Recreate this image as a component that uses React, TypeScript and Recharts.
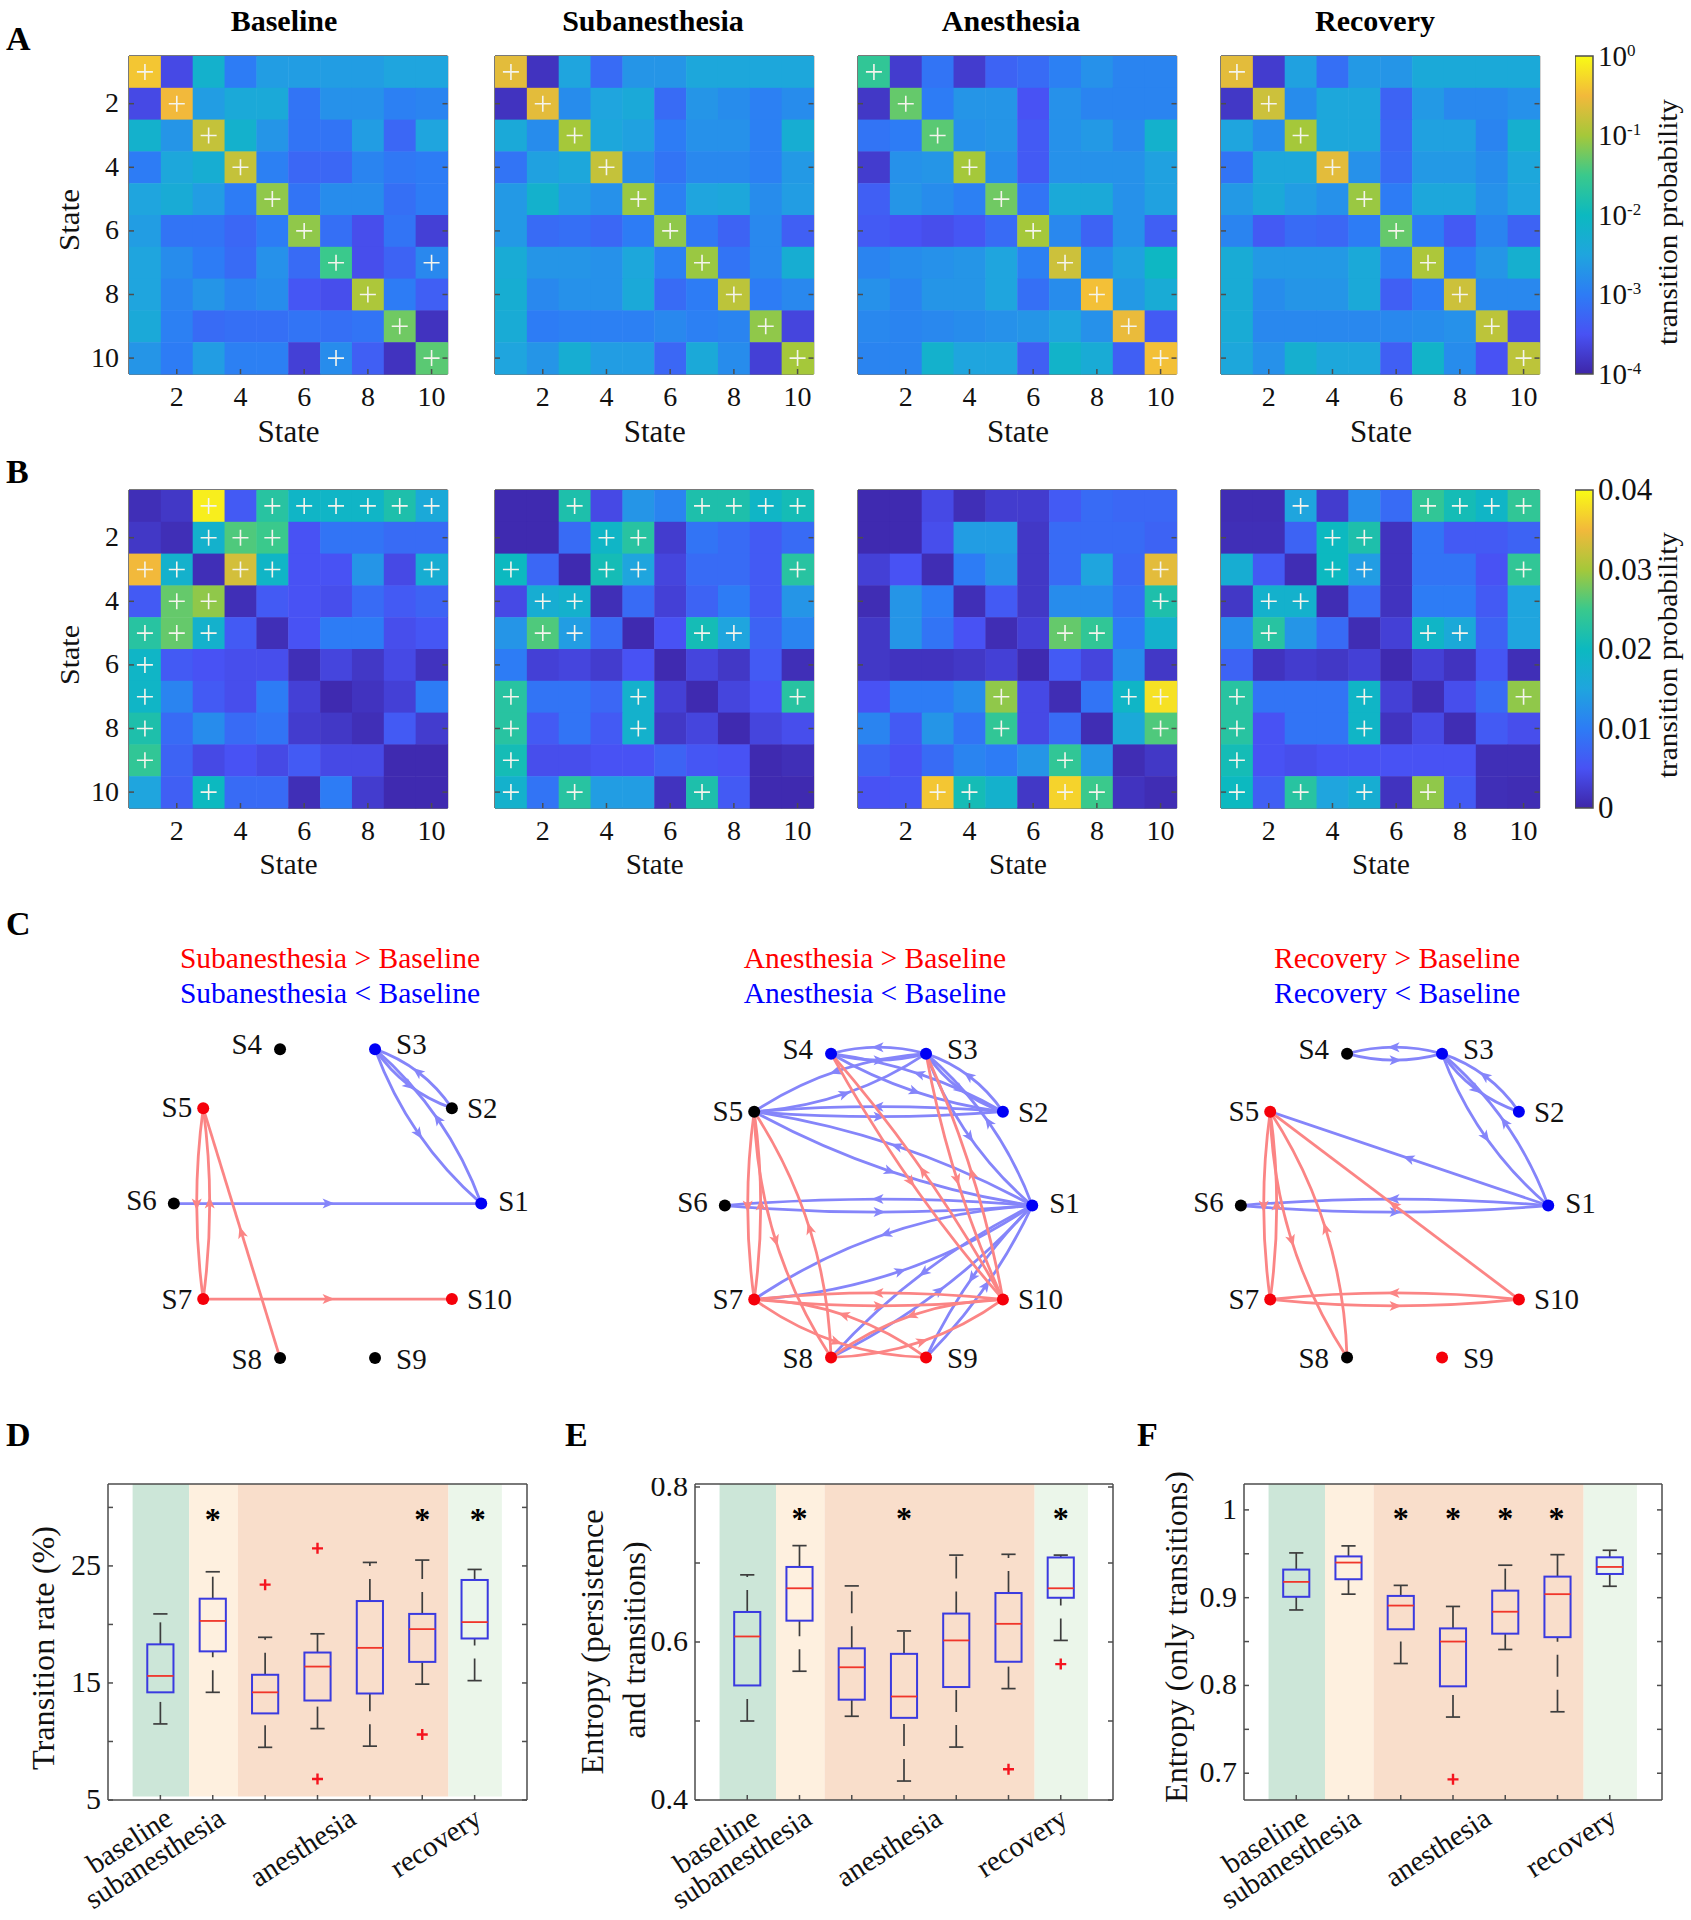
import React from 'react';
import {
  ScatterChart,
  Scatter,
  XAxis,
  YAxis,
  ReferenceArea,
  BarChart,
  Bar,
} from 'recharts';

// ---- panel A: log10 transition probability, rows then columns ----
const A_BASELINE = [
  [-0.4, -3.6, -2.2, -3.0, -2.6, -2.6, -2.6, -2.6, -2.5, -2.5],
  [-3.6, -0.5, -2.6, -2.4, -2.4, -3.1, -2.75, -2.75, -2.95, -2.9],
  [-2.2, -2.7, -0.8, -2.2, -2.7, -3.1, -3.1, -2.6, -3.25, -2.5],
  [-3.0, -2.45, -2.3, -0.8, -2.95, -3.25, -3.25, -2.9, -3.05, -3.0],
  [-2.5, -2.35, -2.6, -3.0, -1.1, -3.1, -2.8, -2.8, -3.15, -3.0],
  [-2.6, -3.1, -3.1, -3.25, -3.0, -1.1, -3.15, -3.55, -3.1, -3.7],
  [-2.5, -2.8, -3.0, -3.2, -2.75, -3.2, -1.5, -3.55, -3.3, -2.85],
  [-2.5, -2.9, -2.7, -2.9, -2.8, -3.45, -3.55, -0.95, -3.0, -3.35],
  [-2.4, -2.95, -3.2, -3.15, -3.15, -3.1, -3.15, -3.1, -1.25, -3.85],
  [-2.7, -3.0, -2.6, -2.95, -2.95, -3.7, -2.8, -3.35, -3.85, -1.35],
];
const A_SUB = [
  [-0.6, -3.85, -2.5, -3.2, -2.7, -2.7, -2.45, -2.45, -2.45, -2.45],
  [-3.85, -0.6, -2.8, -2.5, -2.4, -3.2, -2.7, -2.8, -2.95, -2.8],
  [-2.4, -2.8, -1.0, -2.45, -2.55, -3.0, -2.75, -2.75, -2.95, -2.3],
  [-3.1, -2.55, -2.45, -0.8, -2.8, -3.1, -2.85, -2.85, -2.95, -2.65],
  [-2.65, -2.2, -2.6, -2.75, -1.05, -2.95, -2.5, -2.45, -2.8, -2.6],
  [-2.65, -3.2, -3.15, -3.25, -3.0, -1.1, -3.05, -3.3, -2.85, -3.35],
  [-2.35, -2.7, -2.7, -2.75, -2.45, -2.95, -1.05, -3.1, -2.85, -2.3],
  [-2.3, -2.85, -2.75, -2.75, -2.4, -3.2, -3.0, -0.85, -3.0, -2.85],
  [-2.35, -3.0, -2.95, -2.95, -2.95, -2.85, -2.95, -2.9, -1.1, -3.65],
  [-2.5, -2.7, -2.3, -2.6, -2.6, -3.25, -2.4, -2.8, -3.7, -1.0],
];
const A_ANES = [
  [-1.6, -3.75, -3.1, -3.75, -3.3, -3.2, -2.95, -2.75, -2.9, -2.9],
  [-3.8, -1.3, -3.0, -2.7, -2.7, -3.5, -2.75, -2.9, -2.9, -2.9],
  [-3.1, -3.0, -1.35, -2.75, -2.7, -3.4, -2.75, -2.65, -2.85, -2.2],
  [-3.75, -2.75, -2.7, -1.0, -2.8, -3.4, -2.75, -2.75, -2.75, -2.55],
  [-3.35, -2.7, -2.8, -2.95, -1.25, -3.1, -2.4, -2.4, -2.75, -2.55],
  [-3.4, -3.5, -3.55, -3.45, -3.2, -1.0, -2.85, -3.3, -2.75, -3.35],
  [-2.9, -2.8, -2.75, -2.7, -2.5, -2.95, -0.75, -2.8, -2.55, -2.05],
  [-2.75, -2.9, -2.7, -2.7, -2.5, -3.15, -2.8, -0.45, -2.65, -2.35],
  [-2.85, -2.9, -2.85, -2.8, -2.75, -2.7, -2.5, -2.75, -0.55, -3.4],
  [-2.9, -2.9, -2.2, -2.5, -2.5, -3.35, -2.15, -2.35, -3.35, -0.45],
];
const A_REC = [
  [-0.6, -3.75, -2.55, -3.15, -2.65, -2.7, -2.4, -2.4, -2.4, -2.4],
  [-3.8, -0.75, -2.8, -2.45, -2.45, -3.3, -2.65, -2.85, -2.85, -2.75],
  [-2.5, -2.8, -1.0, -2.45, -2.45, -3.25, -2.55, -2.55, -2.9, -2.25],
  [-3.1, -2.45, -2.45, -0.6, -2.75, -3.2, -2.65, -2.65, -2.8, -2.45],
  [-2.65, -2.4, -2.6, -2.75, -1.05, -3.0, -2.45, -2.45, -2.75, -2.5],
  [-2.9, -3.4, -3.2, -3.25, -3.0, -1.3, -3.0, -3.4, -2.9, -3.3],
  [-2.35, -2.65, -2.65, -2.65, -2.4, -2.95, -0.95, -3.0, -2.7, -2.25],
  [-2.35, -2.8, -2.7, -2.7, -2.4, -3.35, -3.0, -0.75, -2.85, -2.85],
  [-2.35, -2.85, -2.85, -2.85, -2.85, -2.85, -2.8, -2.75, -0.85, -3.6],
  [-2.45, -2.75, -2.25, -2.45, -2.45, -3.35, -2.15, -2.8, -3.5, -0.85],
];

// ---- panel B: transition probability x 1000 ----
const B_BASELINE = [
  [1, 2, 39, 6, 23, 19, 19, 19, 22, 16],
  [2, 1, 18, 26, 25, 5, 9, 9, 8, 8],
  [35, 18, 1, 33, 19, 5, 5, 13, 4, 17],
  [6, 27, 29, 1, 6, 5, 4.5, 8, 6, 7],
  [23, 27, 18, 6, 1, 5, 10, 10, 4.5, 5.5],
  [19, 6, 5, 4.5, 4.5, 1, 3.5, 2, 4, 1.5],
  [19, 11, 6, 4.5, 10, 3, 0.5, 1.5, 3, 10],
  [22, 8, 12, 8, 9, 2.5, 2, 1, 6, 2.5],
  [24, 7, 4, 5, 4, 6, 4, 4, 0.5, 0.5],
  [15, 6.5, 20, 8, 8, 1, 10, 2.5, 0.5, 0.5],
];
const B_SUB = [
  [0.5, 0.5, 22, 4, 13, 11, 22, 22, 19, 21],
  [0.5, 0.5, 8, 19, 23, 2.5, 9, 8, 6, 8],
  [20, 7.5, 0.5, 21, 15, 3.5, 8, 8, 6, 23],
  [4, 17, 18, 1, 8, 3, 7, 10, 6, 13],
  [13, 26, 14, 8, 0.5, 5, 21, 15, 7, 11],
  [10, 3, 3.5, 2.5, 5, 0.5, 3.5, 2, 6, 1],
  [23, 9, 9, 7.5, 18, 3, 0.5, 3.5, 5, 23],
  [23, 6, 9, 6, 18, 2, 3.5, 0.5, 3.5, 4.5],
  [21, 4.5, 4.5, 5, 5, 7, 5.5, 5, 0.5, 1],
  [18, 9, 23, 14, 14, 1.5, 22, 6, 0.5, 0.5],
];
const B_ANES = [
  [0.5, 0.5, 4, 1, 2.5, 2.5, 6, 8, 7.5, 7.5],
  [0.5, 0.5, 4.5, 14, 14, 2, 8, 8, 8, 7],
  [3, 5, 0.8, 10, 13, 2, 8, 15, 7.5, 34],
  [0.8, 13, 10, 1, 6, 2, 12, 12, 8.5, 22],
  [2, 13, 9, 5, 0.8, 3, 27, 24, 10, 18],
  [2, 1.5, 1.5, 2, 3, 0.5, 6, 3.5, 12, 2],
  [5, 10, 10, 12, 29, 4, 0.8, 9, 19, 38],
  [11, 6, 13, 9, 24, 4, 8, 0.8, 16, 26],
  [7, 5, 8, 11, 10, 13, 24, 13, 0.8, 2],
  [5, 5.5, 36, 21, 18, 2, 37, 25, 1.5, 0.8],
];
const B_REC = [
  [0.8, 0.8, 15, 2.5, 12, 8, 24, 21, 19, 24],
  [1, 1, 7, 20, 22, 1.5, 9, 6, 6, 7],
  [17, 6, 0.8, 20, 14, 1.5, 9, 9, 5, 24],
  [2, 18, 18, 0.8, 8, 1.5, 10, 10, 6, 15],
  [12, 23, 13, 8, 0.8, 3, 19, 16, 7, 15],
  [7, 1.5, 2.5, 2, 3, 0.5, 3, 1.5, 5.5, 1],
  [23, 9, 9, 9, 19, 3, 0.8, 4.5, 8, 29],
  [23, 5, 9, 9, 19, 1.5, 4, 0.8, 6, 4.5],
  [21, 5, 4.5, 5, 5, 5, 5, 5, 1, 1],
  [20, 6.5, 23, 15, 17, 1.5, 29, 6, 1, 0.8],
];

// significant cells, columns per row
const DIAGONAL = [[1], [2], [3], [4], [5], [6], [7], [8], [9], [10]];
const A_SIG_BASELINE = [[1], [2], [3], [4], [5], [6], [7, 10], [8], [9], [7, 10]];
const B_SIG_BASELINE = [[3, 5, 6, 7, 8, 9, 10], [3, 4, 5], [1, 2, 4, 5, 10], [2, 3], [1, 2, 3], [1], [1], [1], [1], [3]];
const B_SIG_SUB = [[3, 7, 8, 9, 10], [4, 5], [1, 4, 5, 10], [2, 3], [2, 3, 7, 8], [], [1, 5, 10], [1, 5], [1], [1, 3, 7]];
const B_SIG_ANES = [[], [], [10], [10], [7, 8], [], [5, 9, 10], [5, 10], [7], [3, 4, 7, 8]];
const B_SIG_REC = [[3, 7, 8, 9, 10], [4, 5], [4, 5, 10], [2, 3], [2, 7, 8], [], [1, 5, 10], [1, 5], [1], [1, 3, 5, 7]];

const STATE_TICKS = [2, 4, 6, 8, 10];
const CONDITIONS = ['Baseline', 'Subanesthesia', 'Anesthesia', 'Recovery'];

// ---- panel C: directed edges ----
const NODE_NAMES = ['S1', 'S2', 'S3', 'S4', 'S5', 'S6', 'S7', 'S8', 'S9', 'S10'];
const NODE_ANGLES = [0, 36, 72, 108, 144, 180, 216, 252, 288, 324];

const SUB_BLUE_NODES = [1, 3];
const SUB_RED_NODES = [5, 7, 10];
const SUB_BLUE_EDGES = [[3, 2], [2, 3], [3, 1], [1, 3], [6, 1]];
const SUB_RED_EDGES = [[5, 7], [7, 5], [8, 5], [7, 10]];

const ANES_BLUE_NODES = [1, 2, 3, 4];
const ANES_RED_NODES = [7, 8, 9, 10];
const ANES_BLUE_EDGES = [
  [3, 4], [4, 3], [4, 2], [2, 4], [3, 2], [2, 3], [3, 5], [5, 3], [5, 2], [2, 5],
  [5, 1], [1, 5], [1, 3], [3, 1], [1, 6], [6, 1], [1, 7], [7, 1], [1, 8], [8, 1], [1, 9], [9, 1],
];
const ANES_RED_EDGES = [
  [4, 10], [10, 4], [3, 10], [10, 3], [5, 7], [7, 5], [5, 8], [8, 5],
  [7, 10], [10, 7], [7, 9], [9, 7], [8, 10], [10, 8],
];

const REC_BLUE_NODES = [1, 2, 3];
const REC_RED_NODES = [5, 7, 9, 10];
const REC_BLUE_EDGES = [[3, 4], [4, 3], [3, 2], [2, 3], [3, 1], [1, 3], [1, 5], [1, 6], [6, 1]];
const REC_RED_EDGES = [[5, 7], [7, 5], [5, 8], [8, 5], [10, 5], [7, 10], [10, 7]];

const EDGE_BENDS: Record<string, number> = {
  '1-3': 12, '5-8': 18, '2-3': 8, '3-5': 12, '1-5': 13, '2-4': 9, '1-7': 20,
  '1-8': 12, '1-9': 8, '7-9': 14, '8-10': 14, '4-10': 8, '3-10': 8, '2-5': 5,
};

// ---- panels D, E, F: [lo, q1, median, q3, hi] per group ----
const BOX_CATEGORIES = ['baseline', 'subanesthesia', 'anesthesia', 'recovery'];
const BOX_CATEGORY_AT = [1, 2, 4.5, 6.9];
const GROUPS = [1, 2, 3, 4, 5, 6, 7];

const D_BOXES = [
  [11.5, 14.2, 15.6, 18.3, 20.9],
  [14.2, 17.7, 20.3, 22.2, 24.5],
  [9.5, 12.4, 14.2, 15.7, 18.9],
  [11.1, 13.5, 16.4, 17.6, 19.2],
  [9.6, 14.1, 18.0, 22.0, 25.3],
  [14.9, 16.8, 19.6, 20.9, 25.5],
  [15.2, 18.8, 20.2, 23.8, 24.7],
];
const D_OUTLIERS = [[3, 23.4], [4, 26.5], [4, 6.8], [6, 10.6]];
const D_STARS = [[2, 29.3], [6, 29.3], [7.06, 29.3]];

const E_BOXES = [
  [0.5, 0.545, 0.607, 0.638, 0.685],
  [0.563, 0.627, 0.668, 0.695, 0.722],
  [0.506, 0.527, 0.568, 0.592, 0.671],
  [0.424, 0.504, 0.531, 0.585, 0.614],
  [0.467, 0.543, 0.602, 0.636, 0.71],
  [0.541, 0.575, 0.623, 0.662, 0.711],
  [0.602, 0.656, 0.668, 0.707, 0.71],
];
const E_OUTLIERS = [[6, 0.439], [7, 0.572]];
const E_STARS = [[2, 0.761], [4, 0.761], [7, 0.761]];

const F_BOXES = [
  [0.886, 0.901, 0.918, 0.932, 0.951],
  [0.904, 0.921, 0.94, 0.947, 0.959],
  [0.825, 0.864, 0.891, 0.902, 0.914],
  [0.764, 0.799, 0.85, 0.865, 0.89],
  [0.841, 0.859, 0.884, 0.908, 0.937],
  [0.77, 0.855, 0.904, 0.924, 0.949],
  [0.913, 0.927, 0.935, 0.946, 0.954],
];
const F_OUTLIERS = [[4, 0.693]];
const F_STARS = [[3, 0.994], [4, 0.994], [5, 0.994], [5.98, 0.994]];

const BANDS = [
  { from: 0.47, to: 1.55, fill: '#cce6d8' },
  { from: 1.55, to: 2.48, fill: '#fef0df' },
  { from: 2.48, to: 6.5, fill: '#f9decb' },
  { from: 6.5, to: 7.52, fill: '#ebf6ea' },
];

const FONT = '"Liberation Serif", "Times New Roman", serif';
const AXIS_COLOR = '#4d4d4d';

const PARULA: [number, string][] = [
  [0, '#3e26a8'],
  [0.125, '#4852f4'],
  [0.25, '#2d7cf5'],
  [0.375, '#1fa5de'],
  [0.5, '#0cb9c0'],
  [0.625, '#3ac98c'],
  [0.75, '#a5c83a'],
  [0.875, '#f2b93b'],
  [1, '#f9fb15'],
];

const parula = (t: number) => {
  const v = Math.max(0, Math.min(1, t));
  for (let i = 1; i < PARULA.length; i++) {
    if (v <= PARULA[i][0]) {
      const [t0, c0] = PARULA[i - 1];
      const [t1, c1] = PARULA[i];
      const k = (v - t0) / (t1 - t0);
      const ch = (c: string, p: number) => parseInt(c.slice(p, p + 2), 16);
      const mix = (p: number) => Math.round(ch(c0, p) + (ch(c1, p) - ch(c0, p)) * k);
      return `rgb(${mix(1)},${mix(3)},${mix(5)})`;
    }
  }
  return PARULA[PARULA.length - 1][1];
};

// axis ticks: inward mark plus optional text
const makeTick = (side: string, fontSize = 0, format?: (v: number) => any, gap = 8, len = 5) => (props: any) => {
  const { x, y, payload } = props;
  const v = payload.value;
  const label = format ? format(v) : null;
  if (side === 'left') {
    return (
      <g>
        <line x1={x} y1={y} x2={x + len} y2={y} stroke={AXIS_COLOR} strokeWidth={1.5} />
        {label !== null && (
          <text x={x - gap} y={y + fontSize * 0.3} textAnchor="end" fontSize={fontSize} fill="#111" fontFamily={FONT}>{label}</text>
        )}
      </g>
    );
  }
  if (side === 'right') {
    return <line x1={x} y1={y} x2={x - len} y2={y} stroke={AXIS_COLOR} strokeWidth={1.5} />;
  }
  if (side === 'top') {
    return <line x1={x} y1={y} x2={x} y2={y + len} stroke={AXIS_COLOR} strokeWidth={1.5} />;
  }
  return (
    <g>
      <line x1={x} y1={y} x2={x} y2={y - len} stroke={AXIS_COLOR} strokeWidth={1.5} />
      {label !== null && (
        <text x={x} y={y + gap} textAnchor="middle" fontSize={fontSize} fill="#111" fontFamily={FONT}>{label}</text>
      )}
    </g>
  );
};

const axisLine = { stroke: AXIS_COLOR, strokeWidth: 1.5 };

function Heatmap({ left, top, matrix, sig, colorOf, showY, tickFont = 28 }: any) {
  const W = 318.5;
  const H = 318;
  const ML = 70;
  const MB = 50;
  const cells: any[] = [];
  matrix.forEach((row: number[], r: number) =>
    row.forEach((value, c) => cells.push({ col: c + 1, row: r + 1, value })),
  );
  const marks: any[] = [];
  sig.forEach((cols: number[], r: number) => cols.forEach(c => marks.push({ col: c, row: r + 1 })));
  const fmt = (v: number) => String(v);

  return (
    <div style={{ position: 'absolute', left: left - ML, top: top - 6 }}>
      <ScatterChart width={ML + W + 6} height={6 + H + MB} margin={{ top: 5, right: 5, bottom: 0, left: 0 }}>
        <XAxis type="number" dataKey="col" domain={[0.5, 10.5]} ticks={STATE_TICKS} height={MB} tickSize={0} tickMargin={0} tickLine={false} axisLine={axisLine} tick={makeTick('bottom', tickFont, fmt, 32)} />
        <YAxis type="number" dataKey="row" reversed domain={[0.5, 10.5]} ticks={STATE_TICKS} width={ML} tickSize={0} tickMargin={0} tickLine={false} axisLine={axisLine} tick={makeTick('left', tickFont, showY ? fmt : undefined, 10)} />
        <XAxis xAxisId="top" orientation="top" type="number" domain={[0.5, 10.5]} allowDataOverflow ticks={STATE_TICKS} height={1} tickSize={0} tickMargin={0} tickLine={false} axisLine={axisLine} tick={makeTick('top')} />
        <YAxis yAxisId="right" orientation="right" type="number" reversed domain={[0.5, 10.5]} allowDataOverflow ticks={STATE_TICKS} width={1} tickSize={0} tickMargin={0} tickLine={false} axisLine={axisLine} tick={makeTick('right')} />
        <Scatter
          data={cells}
          isAnimationActive={false}
          shape={(p: any) => (
            <rect x={p.cx - W / 20} y={p.cy - H / 20} width={W / 10 + 0.5} height={H / 10 + 0.5} fill={colorOf(p.payload.value)} />
          )}
        />
        <Scatter
          data={marks}
          isAnimationActive={false}
          shape={(p: any) => (
            <path d={`M${p.cx - 8} ${p.cy}H${p.cx + 8}M${p.cx} ${p.cy - 8}V${p.cy + 8}`} stroke="#f4f4ec" strokeWidth={1.6} fill="none" />
          )}
        />
      </ScatterChart>
    </div>
  );
}

function Colorbar({ top, id, domain, ticks, format, fontSize }: any) {
  const H = 318;
  return (
    <div style={{ position: 'absolute', left: 1575, top: top - 16 }}>
      <BarChart width={90} height={H + 32} data={[{ name: 'cb', range: domain }]} barCategoryGap={0} margin={{ top: 16, right: 0, bottom: 16, left: 0 }}>
        <defs>
          <linearGradient id={id} x1="0" y1="1" x2="0" y2="0">
            {PARULA.map(([t, c]) => <stop key={t} offset={t} stopColor={c} />)}
          </linearGradient>
        </defs>
        <XAxis dataKey="name" hide />
        <YAxis
          orientation="right"
          type="number"
          domain={domain}
          ticks={ticks}
          width={72}
          tickSize={0}
          tickMargin={0}
          tickLine={false}
          axisLine={false}
          tick={(p: any) => (
            <text x={p.x + 5} y={p.y + fontSize * 0.33} fontSize={fontSize} fill="#111" fontFamily={FONT}>{format(p.payload.value)}</text>
          )}
        />
        <Bar dataKey="range" fill={`url(#${id})`} stroke={AXIS_COLOR} strokeWidth={1.5} isAnimationActive={false} />
      </BarChart>
    </div>
  );
}

const renderEdge = (stroke: string, bend: number) => (props: any) => {
  const [a, b] = props.points;
  const dx = b.x - a.x;
  const dy = b.y - a.y;
  const len = Math.hypot(dx, dy) || 1;
  const nx = -dy / len;
  const ny = dx / len;
  const mx = (a.x + b.x) / 2 + nx * bend;
  const my = (a.y + b.y) / 2 + ny * bend;
  const cx = (a.x + b.x) / 2 + nx * bend * 2;
  const cy = (a.y + b.y) / 2 + ny * bend * 2;
  const angle = (Math.atan2(dy, dx) * 180) / Math.PI;
  return (
    <g>
      <path d={`M${a.x} ${a.y}Q${cx} ${cy} ${b.x} ${b.y}`} fill="none" stroke={stroke} strokeWidth={2.8} />
      <path d="M7 0L-5 -5L-2 0L-5 5Z" fill={stroke} transform={`translate(${mx} ${my}) rotate(${angle})`} />
    </g>
  );
};

const LABEL_PLACE: [number, number, string][] = [
  [17, 7, 'start'], [15, 10, 'start'], [21, 5, 'start'], [-18, 5, 'end'], [-11, 9, 'end'],
  [-17, 6, 'end'], [-11, 10, 'end'], [-18, 11, 'end'], [21, 11, 'start'], [15, 10, 'start'],
];

function Network({ cx, cy, ry, blueNodes, redNodes, blueEdges, redEdges }: any) {
  const rx = 153.7;
  const SPAN = 1.5;
  const W = rx * 2 * SPAN;
  const H = ry * 2 * SPAN;
  const nodes = NODE_ANGLES.map((deg, i) => ({
    id: i + 1,
    name: NODE_NAMES[i],
    x: Math.cos((deg * Math.PI) / 180),
    y: Math.sin((deg * Math.PI) / 180),
  }));
  const nodeFill = (id: number) => (blueNodes.includes(id) ? '#0000f5' : redNodes.includes(id) ? '#f5000a' : '#000');
  const group = (edges: number[][], stroke: string) =>
    edges.map(([from, to]) => {
      const both = edges.some(([f, t]) => f === to && t === from);
      const key = `${Math.min(from, to)}-${Math.max(from, to)}`;
      const bend = both ? EDGE_BENDS[key] ?? 6.5 : 0;
      return (
        <Scatter
          key={`${stroke}-${from}-${to}`}
          data={[nodes[from - 1], nodes[to - 1]]}
          line={renderEdge(stroke, bend)}
          shape={() => <g />}
          isAnimationActive={false}
        />
      );
    });
  return (
    <div style={{ position: 'absolute', left: cx - W / 2, top: cy - H / 2 }}>
      <ScatterChart width={W} height={H} margin={{ top: 0, right: 0, bottom: 0, left: 0 }}>
        <XAxis type="number" dataKey="x" domain={[-SPAN, SPAN]} hide />
        <YAxis type="number" dataKey="y" domain={[-SPAN, SPAN]} hide />
        {group(blueEdges, '#8585fa')}
        {group(redEdges, '#fb8585')}
        <Scatter
          data={nodes}
          isAnimationActive={false}
          shape={(p: any) => {
            const [dx, dy, anchor] = LABEL_PLACE[p.payload.id - 1];
            return (
              <g>
                <circle cx={p.cx} cy={p.cy} r={6} fill={nodeFill(p.payload.id)} />
                <text x={p.cx + dx} y={p.cy + dy} textAnchor={anchor as any} fontSize={29} fill="#111" fontFamily={FONT}>{p.payload.name}</text>
              </g>
            );
          }}
        />
      </ScatterChart>
    </div>
  );
}

function BoxPanel({ left, right, boxes, outliers, stars, domain, yTicks, yLabels, fontSize, bandFloor }: any) {
  const top = 1484;
  const bottom = 1800;
  const W = right - left;
  const H = bottom - top;
  const ML = 70;
  const MB = 119;
  const BOX_W = W * 0.0625;
  const CAP_W = W * 0.034;

  const renderBox = (props: any) => {
    const [lo, q1, med, q3, hi] = props.points;
    const x = lo.x;
    return (
      <g fill="none">
        <line x1={x} y1={lo.y} x2={x} y2={q1.y} stroke="#3d3d3d" strokeWidth={1.7} strokeDasharray="22 13" />
        <line x1={x} y1={q3.y} x2={x} y2={hi.y} stroke="#3d3d3d" strokeWidth={1.7} strokeDasharray="22 13" />
        <line x1={x - CAP_W / 2} y1={lo.y} x2={x + CAP_W / 2} y2={lo.y} stroke="#3d3d3d" strokeWidth={1.7} />
        <line x1={x - CAP_W / 2} y1={hi.y} x2={x + CAP_W / 2} y2={hi.y} stroke="#3d3d3d" strokeWidth={1.7} />
        <rect x={x - BOX_W / 2} y={q3.y} width={BOX_W} height={q1.y - q3.y} stroke="#3a3ae0" strokeWidth={2} />
        <line x1={x - BOX_W / 2} y1={med.y} x2={x + BOX_W / 2} y2={med.y} stroke="#f0352a" strokeWidth={1.8} />
      </g>
    );
  };

  // the category names are not all on a tick, so each sits at its own offset from the tick below it
  const bottomTick = (p: any) => {
    const v = p.payload.value;
    const at = BOX_CATEGORY_AT.findIndex(t => Math.floor(t) === v);
    const tx = p.x + (at >= 0 ? ((BOX_CATEGORY_AT[at] - v) * W) / 8 : 0) + 14;
    const ty = p.y + 23;
    return (
      <g>
        <line x1={p.x} y1={p.y} x2={p.x} y2={p.y - 5} stroke={AXIS_COLOR} strokeWidth={1.5} />
        {at >= 0 && (
          <text x={tx} y={ty} textAnchor="end" fontSize={29} fill="#111" fontFamily={FONT} transform={`rotate(-33 ${tx} ${ty})`}>
            {BOX_CATEGORIES[at]}
          </text>
        )}
      </g>
    );
  };

  return (
    <div style={{ position: 'absolute', left: left - ML, top: top - 6 }}>
      <ScatterChart width={ML + W + 6} height={6 + H + 120} margin={{ top: 5, right: 5, bottom: MB, left: 0 }}>
        <XAxis type="number" dataKey="x" domain={[0, 8]} ticks={GROUPS} interval={0} height={1} tickSize={0} tickMargin={0} tickLine={false} axisLine={axisLine} tick={bottomTick} />
        <YAxis type="number" dataKey="y" domain={domain} ticks={yTicks} width={ML} tickSize={0} tickMargin={0} tickLine={false} axisLine={axisLine} allowDataOverflow tick={makeTick('left', fontSize, (v: number) => (yLabels.includes(v) ? String(v) : null), 7)} />
        <XAxis xAxisId="top" orientation="top" type="number" domain={[0, 8]} allowDataOverflow ticks={GROUPS} height={1} tickSize={0} tickMargin={0} tickLine={false} axisLine={axisLine} tick={makeTick('top')} />
        <YAxis yAxisId="right" orientation="right" type="number" domain={domain} allowDataOverflow ticks={yTicks} width={1} tickSize={0} tickMargin={0} tickLine={false} axisLine={axisLine} tick={makeTick('right')} />
        {BANDS.map(b => (
          <ReferenceArea key={b.from} x1={b.from} x2={b.to} y1={bandFloor ?? domain[0]} y2={domain[1]} fill={b.fill} fillOpacity={1} stroke="none" />
        ))}
        {boxes.map((box: number[], i: number) => (
          <Scatter
            key={GROUPS[i]}
            data={box.map(y => ({ x: GROUPS[i], y }))}
            line={renderBox}
            shape={() => <g />}
            isAnimationActive={false}
          />
        ))}
        <Scatter
          data={outliers.map(([x, y]: number[]) => ({ x, y }))}
          isAnimationActive={false}
          shape={(p: any) => (
            <path d={`M${p.cx - 5.5} ${p.cy}H${p.cx + 5.5}M${p.cx} ${p.cy - 5.5}V${p.cy + 5.5}`} stroke="#f5141e" strokeWidth={2.4} fill="none" />
          )}
        />
        <Scatter
          data={stars.map(([x, y]: number[]) => ({ x, y }))}
          isAnimationActive={false}
          shape={(p: any) => (
            <text x={p.cx} y={p.cy + 14} textAnchor="middle" fontSize={32} fontWeight="bold" fill="#000" fontFamily={FONT}>*</text>
          )}
        />
      </ScatterChart>
    </div>
  );
}

const Sup = ({ base, exp }: any) => (
  <>
    {base}
    <tspan fontSize={17} dy={-10}>{exp}</tspan>
  </>
);

const rotated = (x: number, y: number, text: string, size: number, length: number) => (
  <text
    key={`${text}-${y}`}
    x={x}
    y={y}
    textAnchor="middle"
    fontSize={size}
    fill="#111"
    textLength={length}
    lengthAdjust="spacingAndGlyphs"
    transform={`rotate(-90 ${x} ${y})`}
  >
    {text}
  </text>
);

export default function App() {
  const heatX = [128.6, 494.7, 858, 1221];
  const aLog = (v: number) => parula((v + 4) / 4);
  const bLin = (v: number) => parula(v / 40);
  const rowA = [A_BASELINE, A_SUB, A_ANES, A_REC];
  const rowB = [B_BASELINE, B_SUB, B_ANES, B_REC];
  const sigA = [A_SIG_BASELINE, DIAGONAL, DIAGONAL, DIAGONAL];
  const sigB = [B_SIG_BASELINE, B_SIG_SUB, B_SIG_ANES, B_SIG_REC];

  return (
    <div style={{ position: 'absolute', left: 0, top: 0, width: 1691, height: 1920, overflow: 'hidden', background: '#fff', fontFamily: FONT }}>
      {heatX.map((x, i) => (
        <Heatmap key={`a${i}`} left={x} top={56} matrix={rowA[i]} sig={sigA[i]} colorOf={aLog} showY={i === 0} />
      ))}
      {heatX.map((x, i) => (
        <Heatmap key={`b${i}`} left={x} top={490} matrix={rowB[i]} sig={sigB[i]} colorOf={bLin} showY={i === 0} />
      ))}
      <Colorbar
        top={56}
        id="cbA"
        domain={[-4, 0]}
        ticks={[-4, -3, -2, -1, 0]}
        fontSize={29}
        format={(v: number) => <Sup base="10" exp={String(v)} />}
      />
      <Colorbar
        top={490}
        id="cbB"
        domain={[0, 0.04]}
        ticks={[0, 0.01, 0.02, 0.03, 0.04]}
        fontSize={31}
        format={(v: number) => String(v)}
      />

      <Network cx={327.6} cy={1203.7} ry={162.4} blueNodes={SUB_BLUE_NODES} redNodes={SUB_RED_NODES} blueEdges={SUB_BLUE_EDGES} redEdges={SUB_RED_EDGES} />
      <Network cx={878.6} cy={1206} ry={159.7} blueNodes={ANES_BLUE_NODES} redNodes={ANES_RED_NODES} blueEdges={ANES_BLUE_EDGES} redEdges={ANES_RED_EDGES} />
      <Network cx={1394.7} cy={1206} ry={159.7} blueNodes={REC_BLUE_NODES} redNodes={REC_RED_NODES} blueEdges={REC_BLUE_EDGES} redEdges={REC_RED_EDGES} />

      <BoxPanel left={108} right={527} boxes={D_BOXES} outliers={D_OUTLIERS} stars={D_STARS} domain={[5, 32]} yTicks={[5, 10, 15, 20, 25, 30]} yLabels={[5, 15, 25]} fontSize={30} bandFloor={5.3} />
      <BoxPanel left={695} right={1113} boxes={E_BOXES} outliers={E_OUTLIERS} stars={E_STARS} domain={[0.4, 0.8]} yTicks={[0.4, 0.5, 0.6, 0.7, 0.8]} yLabels={[0.4, 0.6, 0.8]} fontSize={30} />
      <BoxPanel left={1244} right={1662} boxes={F_BOXES} outliers={F_OUTLIERS} stars={F_STARS} domain={[0.6695, 1.0295]} yTicks={[0.7, 0.75, 0.8, 0.85, 0.9, 0.95, 1]} yLabels={[0.7, 0.8, 0.9, 1]} fontSize={30} />

      <svg width={1691} height={1920} style={{ position: 'absolute', left: 0, top: 0, pointerEvents: 'none' }} fontFamily={FONT}>
        {[['A', 6, 50], ['B', 6, 483], ['C', 6, 935], ['D', 6, 1446], ['E', 565, 1446], ['F', 1137, 1446]].map(([t, x, y]: any) => (
          <text key={t} x={x} y={y} fontSize={34} fontWeight="bold" fill="#000">{t}</text>
        ))}
        {CONDITIONS.map((c, i) => (
          <text key={c} x={[284, 653, 1011, 1375][i]} y={31} textAnchor="middle" fontSize={30} fontWeight="bold" fill="#000">{c}</text>
        ))}
        {heatX.map((x, i) => (
          <text key={`sa${i}`} x={x + 160} y={442} textAnchor="middle" fontSize={31} fill="#111">State</text>
        ))}
        {heatX.map((x, i) => (
          <text key={`sb${i}`} x={x + 160} y={874} textAnchor="middle" fontSize={29} fill="#111">State</text>
        ))}
        {rotated(79, 220, 'State', 29, 62)}
        {rotated(79, 655, 'State', 28, 60)}
        {rotated(1677, 222, 'transition probability', 27, 246)}
        {rotated(1677, 655, 'transition probability', 27, 246)}
        <text x={330} y={968} textAnchor="middle" fontSize={29.5} fill="#f00">Subanesthesia &gt; Baseline</text>
        <text x={330} y={1003} textAnchor="middle" fontSize={29.5} fill="#00f">Subanesthesia &lt; Baseline</text>
        <text x={875} y={968} textAnchor="middle" fontSize={29.5} fill="#f00">Anesthesia &gt; Baseline</text>
        <text x={875} y={1003} textAnchor="middle" fontSize={29.5} fill="#00f">Anesthesia &lt; Baseline</text>
        <text x={1397} y={968} textAnchor="middle" fontSize={29.5} fill="#f00">Recovery &gt; Baseline</text>
        <text x={1397} y={1003} textAnchor="middle" fontSize={29.5} fill="#00f">Recovery &lt; Baseline</text>
        {rotated(54, 1648, 'Transition rate (%)', 31, 244)}
        {rotated(603, 1642, 'Entropy (persistence', 31, 265)}
        {rotated(645, 1640, 'and transitions)', 31, 197)}
        {rotated(1187, 1637, 'Entropy (only transitions)', 31, 332)}
      </svg>
    </div>
  );
}
